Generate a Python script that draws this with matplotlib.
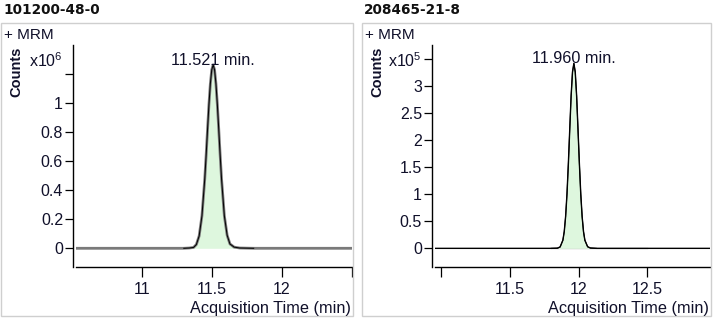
import matplotlib
matplotlib.use("Agg")
import matplotlib.pyplot as plt
from matplotlib.patches import Rectangle

# Data (time in min, counts scaled by 1e6 / 1e5)
left_title = "101200-48-0"
left_rt_label = "11.521 min."
left_time = [10.53, 11.30, 11.34, 11.37, 11.39, 11.41, 11.43, 11.45, 11.46, 11.47,
             11.48, 11.49, 11.50, 11.51, 11.52, 11.53, 11.54, 11.55, 11.56, 11.57,
             11.59, 11.61, 11.63, 11.66, 11.70, 11.80, 12.50]
left_counts_e6 = [0.0, 0.0, 0.002, 0.006, 0.026, 0.085, 0.224, 0.478, 0.643, 0.821,
                  0.992, 1.135, 1.231, 1.265, 1.231, 1.135, 0.992, 0.821, 0.643, 0.478,
                  0.224, 0.090, 0.030, 0.008, 0.002, 0.0, 0.0]
left_yticks = [0, 0.2, 0.4, 0.6, 0.8, 1.0, 1.2]
left_ylabels = ["0", "0.2", "0.4", "0.6", "0.8", "1", ""]
left_xticks = [11, 11.5, 12, 12.5]
left_xlabels = ["11", "11.5", "12", ""]

right_title = "208465-21-8"
right_rt_label = "11.960 min."
right_time = [10.955, 11.80, 11.845, 11.865, 11.885, 11.895, 11.905, 11.915, 11.925,
              11.935, 11.945, 11.955, 11.965, 11.975, 11.985, 11.995, 12.005, 12.015,
              12.025, 12.035, 12.045, 12.065, 12.085, 12.13, 12.955]
right_counts_e5 = [0.0, 0.0, 0.003, 0.026, 0.15, 0.31, 0.59, 1.01, 1.57,
                   2.20, 2.82, 3.26, 3.42, 3.26, 2.82, 2.20, 1.57, 1.01,
                   0.59, 0.31, 0.15, 0.03, 0.006, 0.0, 0.0]
right_yticks = [0, 0.5, 1.0, 1.5, 2.0, 2.5, 3.0, 3.5]
right_ylabels = ["0", "0.5", "1", "1.5", "2", "2.5", "3", ""]
right_xticks = [11, 11.5, 12, 12.5]
right_xlabels = ["", "11.5", "12", "12.5"]

W, H = 718, 324
FILL = "#def7de"
TXT = "#10102a"

plt.rcParams["font.family"] = ["Liberation Sans", "DejaVu Sans"]
plt.rcParams["mathtext.fontset"] = "custom"
plt.rcParams["mathtext.rm"] = "Liberation Sans"
plt.rcParams["mathtext.it"] = "Liberation Sans:italic"

fig = plt.figure(figsize=(W / 100, H / 100), dpi=100)


def fx(px):
    return px / W


def fy(py):
    return 1 - py / H


def panel(box_x0, box_x1, ax_x0, ax_x1, title, time, counts, rt_label, apex_idx,
          xlim, ylim, xticks, xlabels, yticks, ylabels, exponent, gray_trace):
    # panel frame
    fig.add_artist(Rectangle((fx(box_x0), fy(316)), fx(box_x1 - box_x0), (316 - 22.5) / H,
                             transform=fig.transFigure, fill=False,
                             edgecolor="#cfcfcf", linewidth=1.0))
    fig.text(fx(box_x0 + 2), fy(10), title, fontsize=9.8, fontweight="bold",
             family="DejaVu Sans", ha="left", va="center", color="#111111")
    fig.text(fx(box_x0 + 3), fy(35), "+ MRM", fontsize=11, ha="left", va="center", color=TXT)
    fig.text(fx(box_x0 + 15), fy(72), "Counts", fontsize=10.5, fontweight="bold",
             rotation=90, ha="center", va="center", color=TXT)
    fig.text(fx(ax_x0 - 13), fy(61), "x10$^{%d}$" % exponent, fontsize=11.5,
             ha="right", va="center", color=TXT)
    fig.text(fx(ax_x1 - 1), fy(308), "Acquisition Time (min)", fontsize=11.7,
             ha="right", va="center", color=TXT)

    ax = fig.add_axes([fx(ax_x0), 1 - 267 / H, fx(ax_x1 - ax_x0), (267 - 45) / H])
    if gray_trace:
        ax.plot(time, counts, color="#7a7a7a", linewidth=2.0, zorder=2)
    else:
        ax.plot([11.80, 12.50], [ylim[1] * 0.004, ylim[1] * 0.004], color="#bbbbbb",
                linewidth=1.0, zorder=1)
        ax.plot(time, counts, color="black", linewidth=1.0, zorder=2)
    ax.fill_between(time[1:-1], counts[1:-1], 0, color=FILL, linewidth=0, zorder=1)
    ax.plot(time[1:-1], counts[1:-1], color="black", linewidth=0.7, zorder=3)
    ax.text(time[apex_idx], counts[apex_idx], rt_label, fontsize=11.7, ha="center",
            va="baseline", color=TXT, zorder=4)

    ax.set_xlim(*xlim)
    ax.set_ylim(*ylim)
    ax.set_xticks(xticks)
    ax.set_xticklabels(xlabels)
    ax.set_yticks(yticks)
    ax.set_yticklabels(ylabels)
    for side in ("top", "right"):
        ax.spines[side].set_visible(False)
    ax.spines["left"].set_position(("outward", 2))
    for side in ("left", "bottom"):
        ax.spines[side].set_linewidth(1.0)
    ax.tick_params(axis="y", length=5.8, width=0.9, pad=1.5, labelsize=11.5, labelcolor=TXT)
    ax.tick_params(axis="x", length=7.2, width=0.9, pad=3.5, labelsize=11.5, labelcolor=TXT)
    ax.patch.set_visible(False)
    return ax


panel(1, 353, 76, 351.7, left_title, left_time, left_counts_e6, left_rt_label, 13,
      (10.53, 12.5), (-0.129, 1.402), left_xticks, left_xlabels,
      left_yticks, left_ylabels, 6, True)
panel(362, 711, 435, 710, right_title, right_time, right_counts_e5, right_rt_label, 12,
      (10.955, 12.955), (-0.345, 3.76), right_xticks, right_xlabels,
      right_yticks, right_ylabels, 5, False)

fig.savefig("out.png", dpi=100)
